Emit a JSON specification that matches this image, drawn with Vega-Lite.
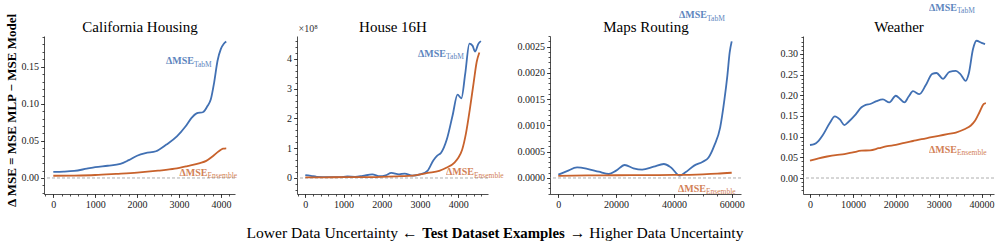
{
  "$schema": "https://vega.github.io/schema/vega-lite/v6.json",
  "background": "white",
  "padding": {"left": 4, "top": 2, "right": 2, "bottom": 2},
  "bounds": "flush",
  "spacing": 62,
  "config": {
    "font": "Liberation Serif",
    "view": {"stroke": null},
    "text": {"font": "Liberation Serif"},
    "axis": {"domainColor": "#222", "tickColor": "#222", "labelColor": "#222", "labelFont": "Liberation Serif", "labelFontSize": 10, "tickSize": 3.5, "labelPadding": 2, "grid": false, "titleFont": "Liberation Serif", "titleColor": "#000", "domainWidth": 0.8, "tickWidth": 0.8}
  },
  "datasets": {
    "cal": [
      {"x": 0, "v": 0.0081, "s": "TabM"}, {"x": 250, "v": 0.0085, "s": "TabM"}, {"x": 500, "v": 0.0095, "s": "TabM"}, {"x": 800, "v": 0.0125, "s": "TabM"}, {"x": 1000, "v": 0.0145, "s": "TabM"}, {"x": 1300, "v": 0.0165, "s": "TabM"}, {"x": 1600, "v": 0.019, "s": "TabM"}, {"x": 1800, "v": 0.024, "s": "TabM"}, {"x": 2000, "v": 0.03, "s": "TabM"}, {"x": 2200, "v": 0.0335, "s": "TabM"}, {"x": 2450, "v": 0.036, "s": "TabM"}, {"x": 2700, "v": 0.045, "s": "TabM"}, {"x": 2950, "v": 0.056, "s": "TabM"}, {"x": 3150, "v": 0.069, "s": "TabM"}, {"x": 3300, "v": 0.081, "s": "TabM"}, {"x": 3420, "v": 0.087, "s": "TabM"}, {"x": 3580, "v": 0.089, "s": "TabM"}, {"x": 3680, "v": 0.097, "s": "TabM"}, {"x": 3760, "v": 0.106, "s": "TabM"}, {"x": 3840, "v": 0.129, "s": "TabM"}, {"x": 3920, "v": 0.158, "s": "TabM"}, {"x": 4000, "v": 0.174, "s": "TabM"}, {"x": 4070, "v": 0.181, "s": "TabM"}, {"x": 4128, "v": 0.184, "s": "TabM"},
      {"x": 0, "v": 0.003, "s": "Ensemble"}, {"x": 500, "v": 0.0033, "s": "Ensemble"}, {"x": 1000, "v": 0.004, "s": "Ensemble"}, {"x": 1500, "v": 0.0055, "s": "Ensemble"}, {"x": 2000, "v": 0.0072, "s": "Ensemble"}, {"x": 2500, "v": 0.0098, "s": "Ensemble"}, {"x": 2900, "v": 0.0125, "s": "Ensemble"}, {"x": 3200, "v": 0.016, "s": "Ensemble"}, {"x": 3500, "v": 0.02, "s": "Ensemble"}, {"x": 3650, "v": 0.023, "s": "Ensemble"}, {"x": 3800, "v": 0.029, "s": "Ensemble"}, {"x": 3950, "v": 0.036, "s": "Ensemble"}, {"x": 4050, "v": 0.0395, "s": "Ensemble"}, {"x": 4128, "v": 0.04, "s": "Ensemble"}
    ],
    "house": [
      {"x": 0, "v": 0.1, "s": "TabM"}, {"x": 150, "v": 0.07, "s": "TabM"}, {"x": 300, "v": 0.04, "s": "TabM"}, {"x": 600, "v": 0.03, "s": "TabM"}, {"x": 900, "v": 0.03, "s": "TabM"}, {"x": 1100, "v": 0.05, "s": "TabM"}, {"x": 1300, "v": 0.04, "s": "TabM"}, {"x": 1500, "v": 0.07, "s": "TabM"}, {"x": 1750, "v": 0.12, "s": "TabM"}, {"x": 1950, "v": 0.06, "s": "TabM"}, {"x": 2100, "v": 0.09, "s": "TabM"}, {"x": 2250, "v": 0.17, "s": "TabM"}, {"x": 2450, "v": 0.12, "s": "TabM"}, {"x": 2600, "v": 0.15, "s": "TabM"}, {"x": 2800, "v": 0.08, "s": "TabM"}, {"x": 3000, "v": 0.12, "s": "TabM"}, {"x": 3200, "v": 0.25, "s": "TabM"}, {"x": 3350, "v": 0.6, "s": "TabM"}, {"x": 3450, "v": 0.75, "s": "TabM"}, {"x": 3550, "v": 0.85, "s": "TabM"}, {"x": 3700, "v": 1.3, "s": "TabM"}, {"x": 3850, "v": 2.1, "s": "TabM"}, {"x": 3980, "v": 2.8, "s": "TabM"}, {"x": 4080, "v": 2.68, "s": "TabM"}, {"x": 4180, "v": 3.5, "s": "TabM"}, {"x": 4290, "v": 4.52, "s": "TabM"}, {"x": 4370, "v": 4.45, "s": "TabM"}, {"x": 4440, "v": 4.25, "s": "TabM"}, {"x": 4520, "v": 4.5, "s": "TabM"}, {"x": 4590, "v": 4.6, "s": "TabM"},
      {"x": 0, "v": 0.02, "s": "Ensemble"}, {"x": 500, "v": 0.02, "s": "Ensemble"}, {"x": 1000, "v": 0.03, "s": "Ensemble"}, {"x": 1500, "v": 0.03, "s": "Ensemble"}, {"x": 2000, "v": 0.04, "s": "Ensemble"}, {"x": 2500, "v": 0.06, "s": "Ensemble"}, {"x": 2800, "v": 0.08, "s": "Ensemble"}, {"x": 3000, "v": 0.12, "s": "Ensemble"}, {"x": 3200, "v": 0.17, "s": "Ensemble"}, {"x": 3500, "v": 0.24, "s": "Ensemble"}, {"x": 3700, "v": 0.35, "s": "Ensemble"}, {"x": 3900, "v": 0.52, "s": "Ensemble"}, {"x": 4000, "v": 0.68, "s": "Ensemble"}, {"x": 4100, "v": 0.95, "s": "Ensemble"}, {"x": 4200, "v": 1.5, "s": "Ensemble"}, {"x": 4300, "v": 2.3, "s": "Ensemble"}, {"x": 4400, "v": 3.2, "s": "Ensemble"}, {"x": 4480, "v": 3.9, "s": "Ensemble"}, {"x": 4550, "v": 4.22, "s": "Ensemble"}
    ],
    "maps": [
      {"x": 0, "v": 0.000063, "s": "TabM"}, {"x": 3000, "v": 0.00013, "s": "TabM"}, {"x": 6500, "v": 0.0002, "s": "TabM"}, {"x": 10000, "v": 0.000175, "s": "TabM"}, {"x": 14000, "v": 0.00012, "s": "TabM"}, {"x": 17500, "v": 0.000076, "s": "TabM"}, {"x": 20000, "v": 0.00014, "s": "TabM"}, {"x": 23000, "v": 0.000247, "s": "TabM"}, {"x": 26000, "v": 0.000185, "s": "TabM"}, {"x": 29000, "v": 0.00016, "s": "TabM"}, {"x": 33000, "v": 0.000216, "s": "TabM"}, {"x": 36500, "v": 0.000266, "s": "TabM"}, {"x": 39000, "v": 0.0002, "s": "TabM"}, {"x": 42000, "v": 0.000044, "s": "TabM"}, {"x": 44000, "v": 0.000108, "s": "TabM"}, {"x": 47000, "v": 0.000235, "s": "TabM"}, {"x": 50000, "v": 0.00031, "s": "TabM"}, {"x": 52000, "v": 0.00039, "s": "TabM"}, {"x": 54000, "v": 0.00062, "s": "TabM"}, {"x": 56000, "v": 0.00096, "s": "TabM"}, {"x": 57500, "v": 0.0015, "s": "TabM"}, {"x": 58500, "v": 0.00195, "s": "TabM"}, {"x": 59300, "v": 0.00239, "s": "TabM"}, {"x": 60000, "v": 0.0026, "s": "TabM"},
      {"x": 0, "v": 0.00004, "s": "Ensemble"}, {"x": 10000, "v": 0.000048, "s": "Ensemble"}, {"x": 20000, "v": 0.000052, "s": "Ensemble"}, {"x": 30000, "v": 0.000055, "s": "Ensemble"}, {"x": 40000, "v": 0.000058, "s": "Ensemble"}, {"x": 50000, "v": 0.00007, "s": "Ensemble"}, {"x": 55000, "v": 0.000082, "s": "Ensemble"}, {"x": 60000, "v": 0.0001, "s": "Ensemble"}
    ],
    "weather": [
      {"x": 0, "v": 0.0798, "s": "TabM"}, {"x": 1000, "v": 0.082, "s": "TabM"}, {"x": 2000, "v": 0.09, "s": "TabM"}, {"x": 3000, "v": 0.104, "s": "TabM"}, {"x": 4500, "v": 0.131, "s": "TabM"}, {"x": 5800, "v": 0.149, "s": "TabM"}, {"x": 7000, "v": 0.141, "s": "TabM"}, {"x": 8000, "v": 0.128, "s": "TabM"}, {"x": 9000, "v": 0.136, "s": "TabM"}, {"x": 10500, "v": 0.152, "s": "TabM"}, {"x": 12000, "v": 0.171, "s": "TabM"}, {"x": 13000, "v": 0.177, "s": "TabM"}, {"x": 14000, "v": 0.179, "s": "TabM"}, {"x": 15500, "v": 0.186, "s": "TabM"}, {"x": 17000, "v": 0.19, "s": "TabM"}, {"x": 18500, "v": 0.183, "s": "TabM"}, {"x": 20000, "v": 0.199, "s": "TabM"}, {"x": 21000, "v": 0.191, "s": "TabM"}, {"x": 22000, "v": 0.183, "s": "TabM"}, {"x": 23000, "v": 0.197, "s": "TabM"}, {"x": 24000, "v": 0.21, "s": "TabM"}, {"x": 25500, "v": 0.203, "s": "TabM"}, {"x": 27000, "v": 0.225, "s": "TabM"}, {"x": 28500, "v": 0.252, "s": "TabM"}, {"x": 29500, "v": 0.254, "s": "TabM"}, {"x": 31000, "v": 0.24, "s": "TabM"}, {"x": 32500, "v": 0.257, "s": "TabM"}, {"x": 34000, "v": 0.259, "s": "TabM"}, {"x": 35000, "v": 0.252, "s": "TabM"}, {"x": 36300, "v": 0.235, "s": "TabM"}, {"x": 37000, "v": 0.252, "s": "TabM"}, {"x": 38000, "v": 0.312, "s": "TabM"}, {"x": 38800, "v": 0.332, "s": "TabM"}, {"x": 40000, "v": 0.327, "s": "TabM"}, {"x": 40800, "v": 0.324, "s": "TabM"},
      {"x": 0, "v": 0.0419, "s": "Ensemble"}, {"x": 2000, "v": 0.0476, "s": "Ensemble"}, {"x": 4000, "v": 0.052, "s": "Ensemble"}, {"x": 6000, "v": 0.0556, "s": "Ensemble"}, {"x": 8000, "v": 0.058, "s": "Ensemble"}, {"x": 10000, "v": 0.062, "s": "Ensemble"}, {"x": 12000, "v": 0.066, "s": "Ensemble"}, {"x": 14000, "v": 0.067, "s": "Ensemble"}, {"x": 16000, "v": 0.072, "s": "Ensemble"}, {"x": 18000, "v": 0.077, "s": "Ensemble"}, {"x": 20000, "v": 0.08, "s": "Ensemble"}, {"x": 22000, "v": 0.085, "s": "Ensemble"}, {"x": 24000, "v": 0.0895, "s": "Ensemble"}, {"x": 26000, "v": 0.094, "s": "Ensemble"}, {"x": 28000, "v": 0.098, "s": "Ensemble"}, {"x": 30000, "v": 0.102, "s": "Ensemble"}, {"x": 32000, "v": 0.106, "s": "Ensemble"}, {"x": 34000, "v": 0.11, "s": "Ensemble"}, {"x": 36000, "v": 0.118, "s": "Ensemble"}, {"x": 37500, "v": 0.127, "s": "Ensemble"}, {"x": 38500, "v": 0.139, "s": "Ensemble"}, {"x": 39500, "v": 0.159, "s": "Ensemble"}, {"x": 40500, "v": 0.179, "s": "Ensemble"}, {"x": 41000, "v": 0.181, "s": "Ensemble"}
    ]
  },
  "hconcat": [
    {
      "width": 191, "height": 158,
      "data": {"name": "cal"},
      "resolve": {"axis": {"x": "independent", "y": "independent"}},
      "layer": [
        {"data": {"values": [{}]}, "mark": {"type": "rule", "stroke": "#999", "strokeDash": [3, 2], "strokeWidth": 0.8}, "encoding": {"y": {"datum": 0, "type": "quantitative", "axis": null}}},
        {"mark": {"type": "line", "interpolate": "monotone", "strokeWidth": 1.8},
         "encoding": {
           "x": {"field": "x", "type": "quantitative", "scale": {"domain": [-222, 4337], "nice": false, "zero": false}, "axis": {"orient": "bottom", "values": [0, 1000, 2000, 3000, 4000], "format": "d", "title": "Lower Data Uncertainty ←", "titleX": 202, "titleY": 43, "titleAlign": "left", "titleBaseline": "alphabetic", "titleFontSize": 15.6, "titleFontWeight": "normal"}},
           "y": {"field": "v", "type": "quantitative", "scale": {"domain": [-0.0216, 0.1914], "nice": false, "zero": false}, "axis": {"orient": "left", "values": [0, 0.05, 0.1, 0.15], "format": ".2f", "title": "Δ MSE = MSE MLP − MSE Model", "titleFontSize": 13, "titleFontWeight": "bold", "titlePadding": 3, "titleY": 74}},
           "color": {"field": "s", "type": "nominal", "scale": {"domain": ["TabM", "Ensemble"], "range": ["#4170b3", "#c8622c"]}, "legend": null}
         }},
        {"data": {"values": [{}]}, "mark": {"type": "text", "align": "right", "baseline": "alphabetic", "fontSize": 10, "fontWeight": "bold", "color": "#4170b3", "opacity": 0.85},
         "encoding": {
           "x": {"datum": 3358, "type": "quantitative", "axis": {"orient": "bottom", "values": [-200, 0, 200, 400, 600, 800, 1000, 1200, 1400, 1600, 1800, 2000, 2200, 2400, 2600, 2800, 3000, 3200, 3400, 3600, 3800, 4000, 4200], "labels": false, "domain": false, "tickSize": 2, "title": null}},
           "y": {"datum": 0.1536, "type": "quantitative", "axis": {"orient": "left", "values": [-0.02, -0.01, 0, 0.01, 0.02, 0.03, 0.04, 0.05, 0.06, 0.07, 0.08, 0.09, 0.1, 0.11, 0.12, 0.13, 0.14, 0.15, 0.16, 0.17, 0.18, 0.19], "labels": false, "domain": false, "tickSize": 2, "title": null}},
           "text": {"value": "ΔMSE"}}},
        {"data": {"values": [{}]}, "mark": {"type": "text", "align": "left", "baseline": "alphabetic", "dy": 2.5, "fontSize": 7.5, "color": "#4170b3", "opacity": 0.85},
         "encoding": {"x": {"datum": 3358, "type": "quantitative", "axis": null}, "y": {"datum": 0.1536, "type": "quantitative", "axis": null}, "text": {"value": "TabM"}}},
        {"data": {"values": [{}]}, "mark": {"type": "text", "align": "right", "baseline": "alphabetic", "fontSize": 10, "fontWeight": "bold", "color": "#c8622c", "opacity": 0.8},
         "encoding": {"x": {"datum": 3680, "type": "quantitative", "axis": {"orient": "top", "domain": false, "ticks": false, "labels": false, "title": "California Housing", "titleX": 95.5, "titleY": -5, "titleAlign": "center", "titleBaseline": "alphabetic", "titleFontSize": 15, "titleFontWeight": "normal"}}, "y": {"datum": 0.0027, "type": "quantitative", "axis": null}, "text": {"value": "ΔMSE"}}},
        {"data": {"values": [{}]}, "mark": {"type": "text", "align": "left", "baseline": "alphabetic", "dy": 2.5, "fontSize": 7.5, "color": "#c8622c", "opacity": 0.8},
         "encoding": {"x": {"datum": 3680, "type": "quantitative", "axis": null}, "y": {"datum": 0.0027, "type": "quantitative", "axis": null}, "text": {"value": "Ensemble"}}}
      ]
    },
    {
      "width": 191, "height": 158,
      "data": {"name": "house"},
      "resolve": {"axis": {"x": "independent", "y": "independent"}},
      "layer": [
        {"data": {"values": [{}]}, "mark": {"type": "rule", "stroke": "#999", "strokeDash": [3, 2], "strokeWidth": 0.8}, "encoding": {"y": {"datum": 0, "type": "quantitative", "axis": null}}},
        {"mark": {"type": "line", "interpolate": "monotone", "strokeWidth": 1.8},
         "encoding": {
           "x": {"field": "x", "type": "quantitative", "scale": {"domain": [-217, 4776], "nice": false, "zero": false}, "axis": {"orient": "bottom", "values": [0, 1000, 2000, 3000, 4000], "format": "d", "title": "Test Dataset Examples", "titleX": 196, "titleY": 43, "titleAlign": "center", "titleBaseline": "alphabetic", "titleFontSize": 14.8, "titleFontWeight": "bold"}},
           "y": {"field": "v", "type": "quantitative", "scale": {"domain": [-0.538, 4.773], "nice": false, "zero": false}, "axis": {"orient": "left", "values": [0, 1, 2, 3, 4], "format": "d", "title": "×10⁸", "titleAngle": 0, "titleX": 1, "titleY": -5, "titleAlign": "left", "titleBaseline": "alphabetic", "titleFontSize": 10, "titleFontWeight": "normal", "titleColor": "#333"}},
           "color": {"field": "s", "type": "nominal", "scale": {"domain": ["TabM", "Ensemble"], "range": ["#4170b3", "#c8622c"]}, "legend": null}
         }},
        {"data": {"values": [{}]}, "mark": {"type": "text", "align": "right", "baseline": "alphabetic", "fontSize": 10, "fontWeight": "bold", "color": "#4170b3", "opacity": 0.85},
         "encoding": {
           "x": {"datum": 3678, "type": "quantitative", "axis": {"orient": "bottom", "values": [-200, 0, 200, 400, 600, 800, 1000, 1200, 1400, 1600, 1800, 2000, 2200, 2400, 2600, 2800, 3000, 3200, 3400, 3600, 3800, 4000, 4200, 4400, 4600], "labels": false, "domain": false, "tickSize": 2, "title": null}},
           "y": {"datum": 4.07, "type": "quantitative", "axis": {"orient": "left", "values": [-0.4, -0.2, 0, 0.2, 0.4, 0.6, 0.8, 1, 1.2, 1.4, 1.6, 1.8, 2, 2.2, 2.4, 2.6, 2.8, 3, 3.2, 3.4, 3.6, 3.8, 4, 4.2, 4.4, 4.6], "labels": false, "domain": false, "tickSize": 2, "title": null}},
           "text": {"value": "ΔMSE"}}},
        {"data": {"values": [{}]}, "mark": {"type": "text", "align": "left", "baseline": "alphabetic", "dy": 2.5, "fontSize": 7.5, "color": "#4170b3", "opacity": 0.85},
         "encoding": {"x": {"datum": 3678, "type": "quantitative", "axis": null}, "y": {"datum": 4.07, "type": "quantitative", "axis": null}, "text": {"value": "TabM"}}},
        {"data": {"values": [{}]}, "mark": {"type": "text", "align": "right", "baseline": "alphabetic", "fontSize": 10, "fontWeight": "bold", "color": "#c8622c", "opacity": 0.8},
         "encoding": {"x": {"datum": 4410, "type": "quantitative", "axis": {"orient": "top", "domain": false, "ticks": false, "labels": false, "title": "House 16H", "titleX": 95.5, "titleY": -5, "titleAlign": "center", "titleBaseline": "alphabetic", "titleFontSize": 15, "titleFontWeight": "normal"}}, "y": {"datum": 0.1, "type": "quantitative", "axis": null}, "text": {"value": "ΔMSE"}}},
        {"data": {"values": [{}]}, "mark": {"type": "text", "align": "left", "baseline": "alphabetic", "dy": 2.5, "fontSize": 7.5, "color": "#c8622c", "opacity": 0.8},
         "encoding": {"x": {"datum": 4410, "type": "quantitative", "axis": null}, "y": {"datum": 0.1, "type": "quantitative", "axis": null}, "text": {"value": "Ensemble"}}}
      ]
    },
    {
      "width": 191, "height": 158,
      "data": {"name": "maps"},
      "resolve": {"axis": {"x": "independent", "y": "independent"}},
      "layer": [
        {"data": {"values": [{}]}, "mark": {"type": "rule", "stroke": "#999", "strokeDash": [3, 2], "strokeWidth": 0.8}, "encoding": {"y": {"datum": 0, "type": "quantitative", "axis": null}}},
        {"mark": {"type": "line", "interpolate": "monotone", "strokeWidth": 1.8},
         "encoding": {
           "x": {"field": "x", "type": "quantitative", "scale": {"domain": [-2872, 63216], "nice": false, "zero": false}, "axis": {"orient": "bottom", "values": [0, 20000, 40000, 60000], "format": "d", "title": "→ Higher Data Uncertainty", "titleX": 193, "titleY": 43, "titleAlign": "right", "titleBaseline": "alphabetic", "titleFontSize": 15.6, "titleFontWeight": "normal"}},
           "y": {"field": "v", "type": "quantitative", "scale": {"domain": [-0.000305, 0.002703], "nice": false, "zero": false}, "axis": {"orient": "left", "values": [0, 0.0005, 0.001, 0.0015, 0.002, 0.0025], "format": ".4f", "title": null}},
           "color": {"field": "s", "type": "nominal", "scale": {"domain": ["TabM", "Ensemble"], "range": ["#4170b3", "#c8622c"]}, "legend": null}
         }},
        {"data": {"values": [{}]}, "mark": {"type": "text", "align": "right", "baseline": "alphabetic", "fontSize": 10, "fontWeight": "bold", "color": "#4170b3", "opacity": 0.85},
         "encoding": {
           "x": {"datum": 51453, "type": "quantitative", "axis": {"orient": "bottom", "values": [0, 5000, 10000, 15000, 20000, 25000, 30000, 35000, 40000, 45000, 50000, 55000, 60000], "labels": false, "domain": false, "tickSize": 2, "title": null}},
           "y": {"datum": 0.003045, "type": "quantitative", "axis": {"orient": "left", "values": [-0.0003, -0.0002, -0.0001, 0, 0.0001, 0.0002, 0.0003, 0.0004, 0.0005, 0.0006, 0.0007, 0.0008, 0.0009, 0.001, 0.0011, 0.0012, 0.0013, 0.0014, 0.0015, 0.0016, 0.0017, 0.0018, 0.0019, 0.002, 0.0021, 0.0022, 0.0023, 0.0024, 0.0025, 0.0026, 0.0027], "labels": false, "domain": false, "tickSize": 2, "title": null}},
           "text": {"value": "ΔMSE"}}},
        {"data": {"values": [{}]}, "mark": {"type": "text", "align": "left", "baseline": "alphabetic", "dy": 2.5, "fontSize": 7.5, "color": "#4170b3", "opacity": 0.85},
         "encoding": {"x": {"datum": 51453, "type": "quantitative", "axis": null}, "y": {"datum": 0.003045, "type": "quantitative", "axis": null}, "text": {"value": "TabM"}}},
        {"data": {"values": [{}]}, "mark": {"type": "text", "align": "right", "baseline": "alphabetic", "fontSize": 10, "fontWeight": "bold", "color": "#c8622c", "opacity": 0.8},
         "encoding": {"x": {"datum": 51107, "type": "quantitative", "axis": {"orient": "top", "domain": false, "ticks": false, "labels": false, "title": "Maps Routing", "titleX": 95.5, "titleY": -5, "titleAlign": "center", "titleBaseline": "alphabetic", "titleFontSize": 15, "titleFontWeight": "normal"}}, "y": {"datum": -0.000266, "type": "quantitative", "axis": null}, "text": {"value": "ΔMSE"}}},
        {"data": {"values": [{}]}, "mark": {"type": "text", "align": "left", "baseline": "alphabetic", "dy": 2.5, "fontSize": 7.5, "color": "#c8622c", "opacity": 0.8},
         "encoding": {"x": {"datum": 51107, "type": "quantitative", "axis": null}, "y": {"datum": -0.000266, "type": "quantitative", "axis": null}, "text": {"value": "Ensemble"}}}
      ]
    },
    {
      "width": 191, "height": 158,
      "data": {"name": "weather"},
      "resolve": {"axis": {"x": "independent", "y": "independent"}},
      "layer": [
        {"data": {"values": [{}]}, "mark": {"type": "rule", "stroke": "#999", "strokeDash": [3, 2], "strokeWidth": 0.8}, "encoding": {"y": {"datum": 0, "type": "quantitative", "axis": null}}},
        {"mark": {"type": "line", "interpolate": "monotone", "strokeWidth": 1.8},
         "encoding": {
           "x": {"field": "x", "type": "quantitative", "scale": {"domain": [-1632, 42890], "nice": false, "zero": false}, "axis": {"orient": "bottom", "values": [0, 10000, 20000, 30000, 40000], "format": "d", "title": null}},
           "y": {"field": "v", "type": "quantitative", "scale": {"domain": [-0.0387, 0.3435], "nice": false, "zero": false}, "axis": {"orient": "left", "values": [0, 0.05, 0.1, 0.15, 0.2, 0.25, 0.3], "format": ".2f", "title": null}},
           "color": {"field": "s", "type": "nominal", "scale": {"domain": ["TabM", "Ensemble"], "range": ["#4170b3", "#c8622c"]}, "legend": null}
         }},
        {"data": {"values": [{}]}, "mark": {"type": "text", "align": "right", "baseline": "alphabetic", "fontSize": 10, "fontWeight": "bold", "color": "#4170b3", "opacity": 0.85},
         "encoding": {
           "x": {"datum": 34266, "type": "quantitative", "axis": {"orient": "bottom", "values": [0, 2000, 4000, 6000, 8000, 10000, 12000, 14000, 16000, 18000, 20000, 22000, 24000, 26000, 28000, 30000, 32000, 34000, 36000, 38000, 40000, 42000], "labels": false, "domain": false, "tickSize": 2, "title": null}},
           "y": {"datum": 0.404, "type": "quantitative", "axis": {"orient": "left", "values": [-0.03, -0.02, -0.01, 0, 0.01, 0.02, 0.03, 0.04, 0.05, 0.06, 0.07, 0.08, 0.09, 0.1, 0.11, 0.12, 0.13, 0.14, 0.15, 0.16, 0.17, 0.18, 0.19, 0.2, 0.21, 0.22, 0.23, 0.24, 0.25, 0.26, 0.27, 0.28, 0.29, 0.3, 0.31, 0.32, 0.33, 0.34], "labels": false, "domain": false, "tickSize": 2, "title": null}},
           "text": {"value": "ΔMSE"}}},
        {"data": {"values": [{}]}, "mark": {"type": "text", "align": "left", "baseline": "alphabetic", "dy": 2.5, "fontSize": 7.5, "color": "#4170b3", "opacity": 0.85},
         "encoding": {"x": {"datum": 34266, "type": "quantitative", "axis": null}, "y": {"datum": 0.404, "type": "quantitative", "axis": null}, "text": {"value": "TabM"}}},
        {"data": {"values": [{}]}, "mark": {"type": "text", "align": "right", "baseline": "alphabetic", "fontSize": 10, "fontWeight": "bold", "color": "#c8622c", "opacity": 0.8},
         "encoding": {"x": {"datum": 34266, "type": "quantitative", "axis": {"orient": "top", "domain": false, "ticks": false, "labels": false, "title": "Weather", "titleX": 95.5, "titleY": -5, "titleAlign": "center", "titleBaseline": "alphabetic", "titleFontSize": 15, "titleFontWeight": "normal"}}, "y": {"datum": 0.0605, "type": "quantitative", "axis": null}, "text": {"value": "ΔMSE"}}},
        {"data": {"values": [{}]}, "mark": {"type": "text", "align": "left", "baseline": "alphabetic", "dy": 2.5, "fontSize": 7.5, "color": "#c8622c", "opacity": 0.8},
         "encoding": {"x": {"datum": 34266, "type": "quantitative", "axis": null}, "y": {"datum": 0.0605, "type": "quantitative", "axis": null}, "text": {"value": "Ensemble"}}}
      ]
    }
  ]
}
